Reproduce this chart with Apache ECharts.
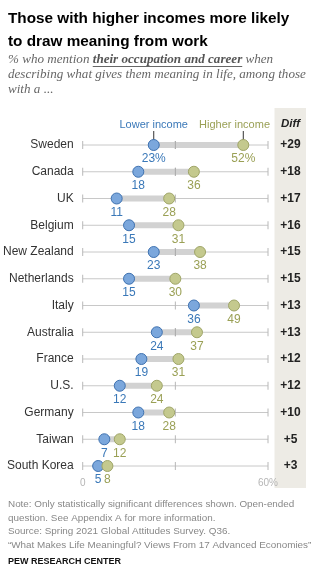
<!DOCTYPE html>
<html>
<head>
<meta charset="utf-8">
<script src="https://cdn.jsdelivr.net/npm/echarts@6/dist/echarts.min.js"></script>
<style>
  html, body { margin: 0; padding: 0; background: #fff; }
  #chart { width: 325px; height: 573px; }
</style>
</head>
<body>
<div id="chart"></div>
<script>
// Share mentioning occupation/career as a source of meaning, by income group
const countries = ['Sweden', 'Canada', 'UK', 'Belgium', 'New Zealand', 'Netherlands',
  'Italy', 'Australia', 'France', 'U.S.', 'Germany', 'Taiwan', 'South Korea'];
const lowerIncome = [23, 18, 11, 15, 23, 15, 36, 24, 19, 12, 18, 7, 5];
const higherIncome = [52, 36, 28, 31, 38, 30, 49, 37, 31, 24, 28, 12, 8];
const axisTicks = [0, 30, 60];
const axisTickLabels = ['0', '60%'];

const BLUE_FILL = '#7ba7dc', BLUE_LINE = '#3f72b0', BLUE_TEXT = '#3a78b8';
const OLIVE_FILL = '#c4c98e', OLIVE_LINE = '#9fa568', OLIVE_TEXT = '#9aa055';
const FONT = '"Liberation Sans", Arial, sans-serif';
const SERIF = '"Liberation Serif", Georgia, serif';

const SUB_SIZE = 13.1;
const subItalic = 'italic ' + SUB_SIZE + 'px ' + SERIF;
const subBold = 'italic bold ' + SUB_SIZE + 'px ' + SERIF;

// Underline position for the emphasised phrase in the subtitle
const ctx = document.createElement('canvas').getContext('2d');
ctx.font = subItalic;
const ulStart = 8 + ctx.measureText('% who mention ').width;
ctx.font = subBold;
const ulEnd = ulStart + ctx.measureText('their occupation and career').width;

const rows = countries.map((c, i) => [i, lowerIncome[i], higherIncome[i]]);

const chart = echarts.init(document.getElementById('chart'), null, { renderer: 'canvas' });

chart.setOption({
  animation: false,
  grid: { left: 78.5, right: 57, top: 145, bottom: 107 },
  xAxis: {
    type: 'value', min: 0, max: 60, interval: 30,
    axisLine: { show: false }, axisTick: { show: false }, splitLine: { show: false },
    axisLabel: {
      color: '#b5b5b5', fontSize: 10, fontFamily: FONT, margin: 12,
      formatter: v => v === 0 ? axisTickLabels[0] : (v === 60 ? axisTickLabels[1] : '')
    }
  },
  yAxis: {
    type: 'category', data: countries, inverse: true, boundaryGap: false,
    axisLine: { show: false }, axisTick: { show: false }, splitLine: { show: false },
    axisLabel: { color: '#333', fontSize: 12, fontFamily: FONT, margin: 9 }
  },
  graphic: [
    { type: 'rect', z: -1, shape: { x: 274.5, y: 108, width: 31.5, height: 380 }, style: { fill: '#edebe5' } },
    { type: 'text', x: 8, y: 7, style: {
      text: 'Those with higher incomes more likely\nto draw meaning from work',
      fill: '#000', font: 'bold 15.3px ' + FONT, lineHeight: 23 } },
    { type: 'text', x: 8, y: 52, style: {
      text: '{i|% who mention }{b|their occupation and career}{i| when}\n{i|describing what gives them meaning in life, among those}\n{i|with a ...}',
      rich: {
        i: { font: subItalic, fill: '#666', lineHeight: 15 },
        b: { font: subBold, fill: '#555', lineHeight: 15 }
      } } },
    { type: 'line', shape: { x1: ulStart, y1: 66.5, x2: ulEnd, y2: 66.5 }, style: { stroke: '#666', lineWidth: 1 } },
    { type: 'text', x: 290.5, y: 118, style: { text: 'Diff', fill: '#222', font: 'italic bold 11.5px ' + FONT, textAlign: 'center' } },
    { type: 'text', x: 8, y: 498, style: {
      text: 'Note: Only statistically significant differences shown. Open-ended\nquestion. See Appendix A for more information.\nSource: Spring 2021 Global Attitudes Survey. Q36.\n\u201cWhat Makes Life Meaningful? Views From 17 Advanced Economies\u201d',
      fill: '#888', font: '9.9px ' + FONT, lineHeight: 13.4 } },
    { type: 'text', x: 8, y: 557, style: { text: 'PEW RESEARCH CENTER', fill: '#111', font: 'bold 9px ' + FONT } }
  ],
  series: [
    {
      // Row baselines with ticks at 0, 30 and 60
      type: 'custom', silent: true, z: 1, data: rows,
      renderItem: (params, api) => {
        const i = api.value(0);
        const a = api.coord([axisTicks[0], i]);
        const b = api.coord([axisTicks[axisTicks.length - 1], i]);
        const children = [{ type: 'line', shape: { x1: a[0], y1: a[1], x2: b[0], y2: b[1] },
          style: { stroke: '#c8c8c8', lineWidth: 1 } }];
        axisTicks.forEach(t => {
          const p = api.coord([t, i]);
          children.push({ type: 'line', shape: { x1: p[0], y1: p[1] - 4, x2: p[0], y2: p[1] + 4 },
            style: { stroke: '#b8b8b8', lineWidth: 1 } });
        });
        return { type: 'group', children };
      }
    },
    {
      // Gap bar between the two income groups
      type: 'custom', silent: true, z: 2, data: rows,
      renderItem: (params, api) => {
        const i = api.value(0);
        const a = api.coord([api.value(1), i]);
        const b = api.coord([api.value(2), i]);
        const mid = api.coord([30, i]);
        const children = [{ type: 'line', shape: { x1: a[0], y1: a[1], x2: b[0], y2: b[1] },
          style: { stroke: '#d2d2d2', lineWidth: 6 } }];
        if (mid[0] > a[0] && mid[0] < b[0]) {
          children.push({ type: 'line', shape: { x1: mid[0], y1: mid[1] - 4, x2: mid[0], y2: mid[1] + 4 },
            style: { stroke: '#a8a8a8', lineWidth: 1 } });
        }
        return { type: 'group', children };
      }
    },
    {
      // Diff column values
      type: 'custom', silent: true, z: 3, data: rows,
      renderItem: (params, api) => {
        const i = api.value(0);
        const p = api.coord([0, i]);
        return { type: 'text', x: 290.5, y: p[1],
          style: { text: '+' + (api.value(2) - api.value(1)), fill: '#222',
            font: 'bold 12px ' + FONT, textAlign: 'center', textVerticalAlign: 'middle' } };
      }
    },
    {
      // Legend pointers from the labels to the first row's dots
      type: 'custom', silent: true, z: 3, data: [rows[0]],
      renderItem: (params, api) => {
        const lo = api.coord([api.value(1), 0]);
        const hi = api.coord([api.value(2), 0]);
        const end = api.coord([60, 0]);
        const pointer = p => ({ type: 'line', shape: { x1: p[0], y1: p[1] - 14, x2: p[0], y2: p[1] - 5 },
          style: { stroke: '#333', lineWidth: 1 } });
        return { type: 'group', children: [
          pointer(lo), pointer(hi),
          { type: 'text', x: lo[0], y: lo[1] - 15, style: { text: 'Lower income', fill: BLUE_TEXT,
            font: '11px ' + FONT, textAlign: 'center', textVerticalAlign: 'bottom' } },
          { type: 'text', x: end[0] + 2, y: hi[1] - 15, style: { text: 'Higher income', fill: OLIVE_TEXT,
            font: '11px ' + FONT, textAlign: 'right', textVerticalAlign: 'bottom' } }
        ] };
      }
    },
    {
      name: 'Lower income', type: 'scatter', z: 4, symbolSize: 11,
      data: lowerIncome.map((v, i) => [v, i]),
      itemStyle: { color: BLUE_FILL, borderColor: BLUE_LINE, borderWidth: 1, opacity: 1 },
      label: { show: true, position: 'bottom', distance: 2, color: BLUE_TEXT, fontSize: 12, fontFamily: FONT,
        formatter: p => p.dataIndex === 0 ? p.value[0] + '%' : String(p.value[0]) }
    },
    {
      name: 'Higher income', type: 'scatter', z: 4, symbolSize: 11,
      data: higherIncome.map((v, i) => [v, i]),
      itemStyle: { color: OLIVE_FILL, borderColor: OLIVE_LINE, borderWidth: 1, opacity: 1 },
      label: { show: true, position: 'bottom', distance: 2, color: OLIVE_TEXT, fontSize: 12, fontFamily: FONT,
        formatter: p => p.dataIndex === 0 ? p.value[0] + '%' : String(p.value[0]) }
    }
  ]
});
</script>
</body>
</html>
